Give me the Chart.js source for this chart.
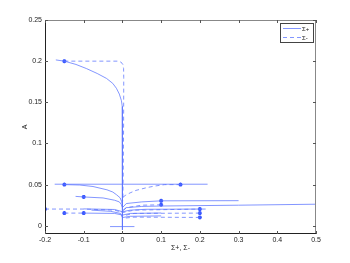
<!DOCTYPE html>
<html>
<head>
<meta charset="utf-8">
<script src="https://cdn.jsdelivr.net/npm/chart.js@4/dist/chart.umd.min.js"></script>
<style>
  html, body { margin: 0; padding: 0; background: #fff; }
  canvas { display: block; }
</style>
</head>
<body>
<canvas id="c" width="350" height="263"></canvas>
<script>
// axis ticks
const xTicks = [-0.2, -0.1, 0, 0.1, 0.2, 0.3, 0.4, 0.5];
const yTicks = [0, 0.05, 0.1, 0.15, 0.2, 0.25];

// Sigma+ trajectories (solid) as [x, A] pairs
const sigPlus = [
  [[-0.172, 0.2015], [-0.15, 0.2], [-0.12, 0.196], [-0.093, 0.191], [-0.065, 0.185], [-0.041, 0.179], [-0.025, 0.173],
   [-0.0155, 0.167], [-0.008, 0.16], [-0.0026, 0.152], [-0.0005, 0.145], [0, 0.137], [0, -0.005]],
  [[-0.175, 0.0505], [0.22, 0.0505]],
  [[-0.15, 0.05], [-0.11, 0.0495], [-0.076, 0.0477], [-0.04, 0.0437], [-0.025, 0.041], [-0.015, 0.0376], [-0.006, 0.034], [-0.002, 0.0295], [0, 0.026]],
  [[-0.121, 0.0357], [-0.1, 0.035], [-0.05, 0.0338], [-0.02, 0.031], [-0.008, 0.029], [-0.003, 0.026], [0, 0.022]],
  [[0, 0.022], [0.01, 0.027], [0.05, 0.029], [0.1, 0.0303], [0.3, 0.0305]],
  [[0, 0.018], [0.01, 0.022], [0.05, 0.0235], [0.1, 0.024], [0.3, 0.025], [0.5, 0.0262]],
  [[-0.1, 0.0205], [-0.02, 0.0198], [0, 0.017], [0.02, 0.019], [0.06, 0.02], [0.2, 0.0203], [0.215, 0.0203]],
  [[-0.1, 0.0154], [-0.02, 0.015], [0, 0.013], [0.02, 0.015], [0.1, 0.0155]],
  [[-0.08, 0.019], [-0.03, 0.0175], [-0.005, 0.015], [0, 0.01], [0.02, 0.0115], [0.1, 0.012]],
  [[-0.032, -0.001], [0.031, -0.001]]
];

// Sigma- trajectories (dashed)
const sigMinus = [
  [[-0.15, 0.2], [-0.013, 0.2], [-0.004, 0.199], [0.001, 0.196], [0.003, 0.191], [0.0034, 0.18], [0.003, 0.12], [0.002, 0.06], [0.001, 0.03]],
  [[0.15, 0.05], [0.109, 0.05], [0.08, 0.048], [0.06, 0.046], [0.035, 0.043], [0.02, 0.04], [0.008, 0.037], [0.002, 0.035], [0, 0.033]],
  [[0.1, 0.0255], [0.05, 0.025], [0.01, 0.022], [0, 0.018]],
  [[-0.2, 0.0203], [-0.1, 0.0203], [-0.02, 0.019], [0, 0.016], [0.03, 0.019], [0.2, 0.0203]],
  [[-0.15, 0.0154], [-0.1, 0.0154]],
  [[0.2, 0.0154], [0.03, 0.015], [0, 0.012]],
  [[0.2, 0.0101], [0.03, 0.0105], [0, 0.009]]
];

// starting points (asterisk markers)
const starts = [
  [-0.15, 0.2], [-0.15, 0.05], [0.15, 0.05], [-0.1, 0.035], [-0.2, 0.0203],
  [-0.15, 0.0154], [-0.1, 0.0154], [0.1, 0.0303], [0.1, 0.0255],
  [0.2, 0.0203], [0.2, 0.0154], [0.2, 0.0101]
];

const lineColor = 'rgba(90,115,255,0.75)';
const markColor = '#3a58ff';
const FONT = 'Liberation Sans, Arial, sans-serif';

const toPts = arr => arr.map(p => ({ x: p[0], y: p[1] }));

const datasets = [];
sigPlus.forEach((tr, i) => datasets.push({
  label: i === 0 ? 'Σ+' : '', data: toPts(tr), showLine: true, borderColor: lineColor,
  borderWidth: 1, pointRadius: 0, tension: 0
}));
sigMinus.forEach((tr, i) => datasets.push({
  label: i === 0 ? 'Σ-' : '', data: toPts(tr), showLine: true, borderColor: lineColor,
  borderWidth: 1, borderDash: [4, 3], pointRadius: 0, tension: 0
}));
datasets.push({
  label: '', data: toPts(starts), showLine: false, pointStyle: 'star',
  pointRadius: 2, borderColor: markColor, backgroundColor: markColor, pointBorderWidth: 1.2
});

// box, inward ticks and legend, MATLAB style
const boxPlugin = {
  id: 'box',
  afterDraw(chart) {
    const { ctx, chartArea: a, scales: { x, y } } = chart;
    ctx.save();
    ctx.lineWidth = 1;
    ctx.strokeStyle = '#888';
    ctx.beginPath();
    ctx.moveTo(a.left, a.top + 0.5); ctx.lineTo(a.right, a.top + 0.5);
    ctx.moveTo(a.right - 0.5, a.top); ctx.lineTo(a.right - 0.5, a.bottom);
    ctx.stroke();
    ctx.strokeStyle = '#222';
    ctx.beginPath();
    ctx.moveTo(a.left + 0.5, a.top); ctx.lineTo(a.left + 0.5, a.bottom);
    ctx.moveTo(a.left, a.bottom - 0.5); ctx.lineTo(a.right, a.bottom - 0.5);
    ctx.stroke();
    ctx.strokeStyle = '#555';
    ctx.beginPath();
    xTicks.forEach(v => {
      const px = Math.round(x.getPixelForValue(v)) + 0.5;
      ctx.moveTo(px, a.bottom); ctx.lineTo(px, a.bottom - 3);
      ctx.moveTo(px, a.top); ctx.lineTo(px, a.top + 3);
    });
    yTicks.forEach(v => {
      const py = Math.round(y.getPixelForValue(v)) + 0.5;
      ctx.moveTo(a.left, py); ctx.lineTo(a.left + 3, py);
      ctx.moveTo(a.right, py); ctx.lineTo(a.right - 3, py);
    });
    ctx.stroke();

    // legend
    const lx = a.right - 36, ly = a.top + 3, lw = 33, lh = 19;
    ctx.fillStyle = '#fff';
    ctx.fillRect(lx, ly, lw, lh);
    ctx.strokeStyle = '#444';
    ctx.strokeRect(lx + 0.5, ly + 0.5, lw, lh);
    ctx.strokeStyle = lineColor;
    ctx.beginPath();
    ctx.moveTo(lx + 3, ly + 5.5); ctx.lineTo(lx + 21, ly + 5.5);
    ctx.stroke();
    ctx.setLineDash([4, 3]);
    ctx.beginPath();
    ctx.moveTo(lx + 3, ly + 14.5); ctx.lineTo(lx + 21, ly + 14.5);
    ctx.stroke();
    ctx.setLineDash([]);
    ctx.fillStyle = '#222';
    ctx.font = '6px ' + FONT;
    ctx.textBaseline = 'middle';
    ctx.fillText('Σ+', lx + 22, ly + 6);
    ctx.fillText('Σ-', lx + 22, ly + 15);
    ctx.restore();
  }
};

new Chart(document.getElementById('c').getContext('2d'), {
  type: 'scatter',
  data: { datasets },
  options: {
    responsive: false,
    animation: false,
    layout: { padding: { top: 20, right: 34, left: 0, bottom: 0 } },
    plugins: { legend: { display: false }, tooltip: { enabled: false } },
    scales: {
      x: {
        type: 'linear', min: -0.2, max: 0.5,
        afterBuildTicks: s => { s.ticks = xTicks.map(v => ({ value: v })); },
        afterFit: s => { s.height = 29; },
        grid: { display: false, drawTicks: false }, border: { display: false },
        ticks: { padding: 2, color: '#222', font: { size: 7, family: FONT }, callback: v => String(v), maxRotation: 0 },
        title: { display: true, text: 'Σ+, Σ-', color: '#222', font: { size: 7, family: FONT }, padding: { top: 0, bottom: 11 } }
      },
      y: {
        type: 'linear', min: -0.01, max: 0.25,
        afterBuildTicks: s => { s.ticks = yTicks.map(v => ({ value: v })); },
        afterFit: s => { s.width = 45; },
        grid: { display: false, drawTicks: false }, border: { display: false },
        ticks: { padding: 3, color: '#222', font: { size: 7, family: FONT }, callback: v => String(v) },
        title: { display: true, text: 'A', color: '#222', font: { size: 7, family: FONT }, padding: { top: 21, bottom: 0 } }
      }
    }
  },
  plugins: [boxPlugin]
});
</script>
</body>
</html>
